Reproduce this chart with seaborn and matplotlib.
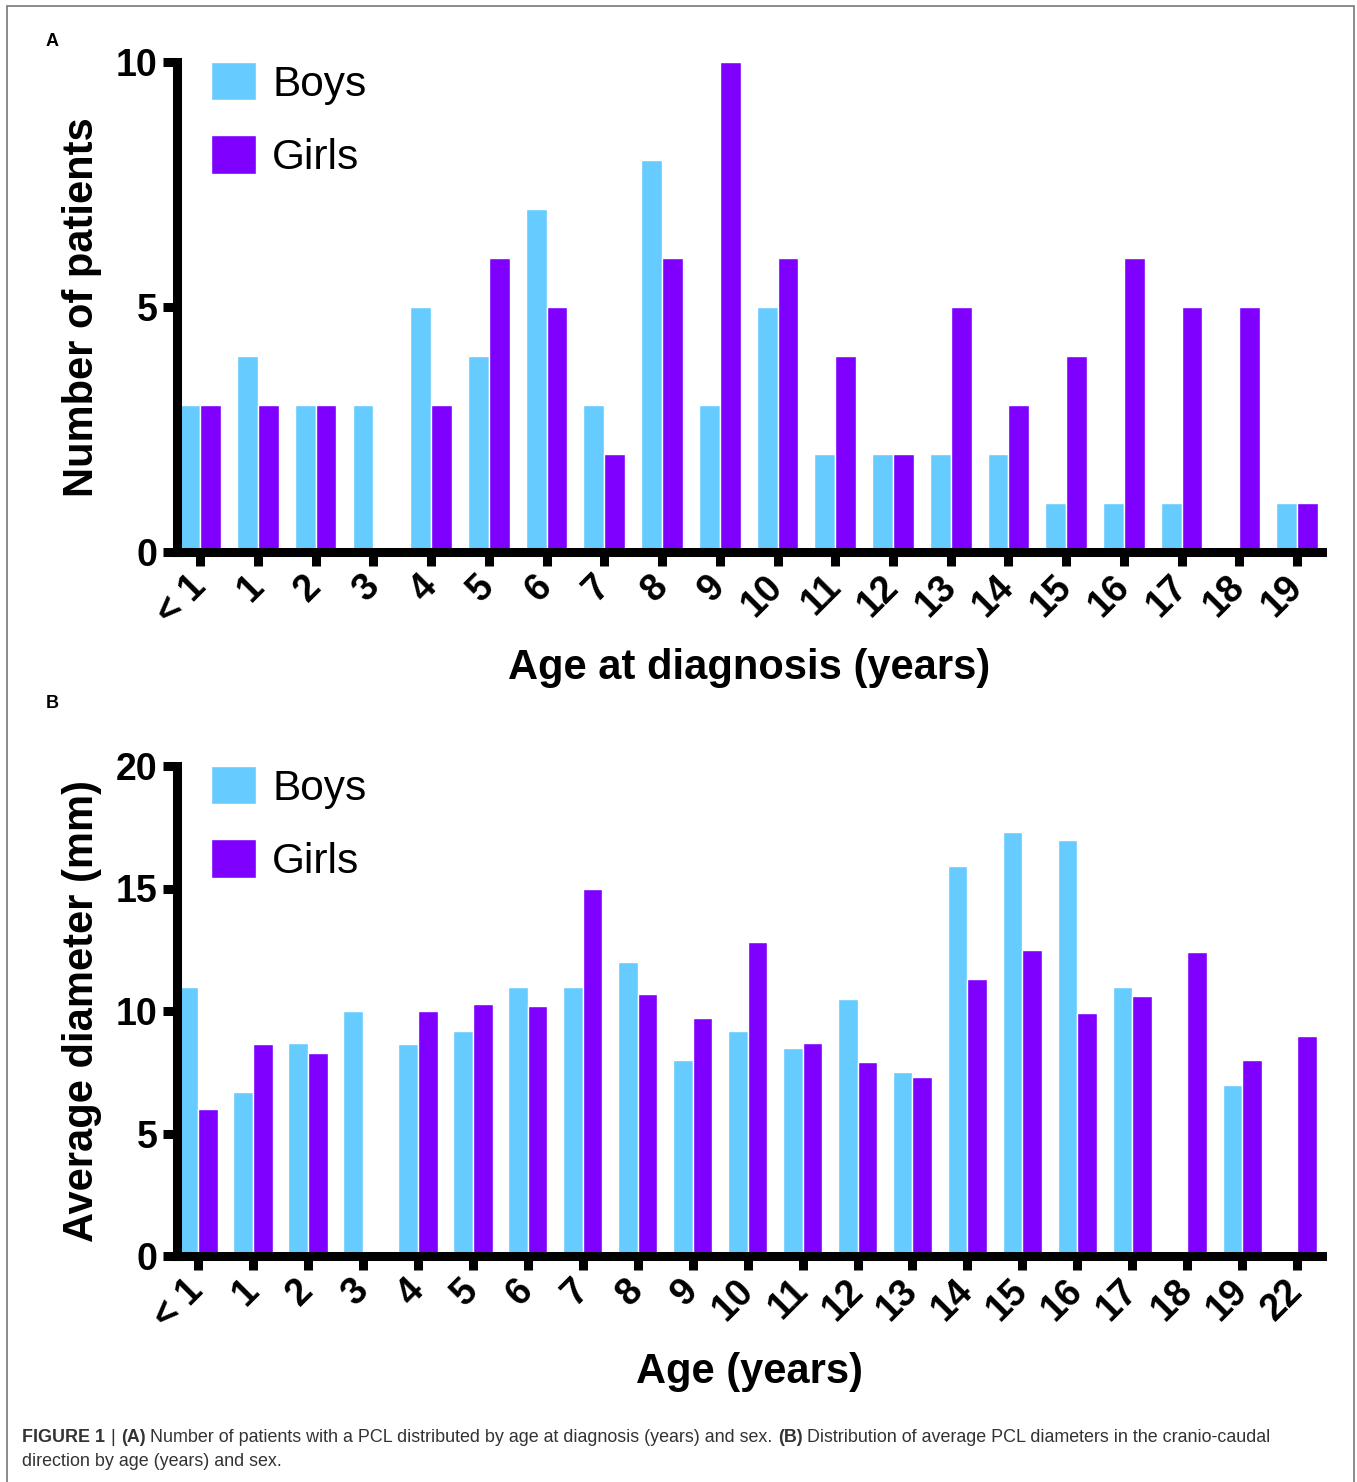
import numpy as np
import pandas as pd
import seaborn as sns
import matplotlib.pyplot as plt
from matplotlib.patches import Rectangle

sns.set_theme(style='ticks')
plt.rcParams['font.family'] = ['Liberation Sans', 'DejaVu Sans']
plt.rcParams['text.color'] = 'black'
plt.rcParams['axes.labelcolor'] = 'black'
plt.rcParams['xtick.color'] = 'black'
plt.rcParams['ytick.color'] = 'black'

boys_color = '#66CCFF'
girls_color = '#8000FF'

# panel A: number of patients by age at diagnosis
ages_a = ['< 1', '1', '2', '3', '4', '5', '6', '7', '8', '9', '10',
          '11', '12', '13', '14', '15', '16', '17', '18', '19']
boys_a = [3, 4, 3, 3, 5, 4, 7, 3, 8, 3, 5, 2, 2, 2, 2, 1, 1, 1, 0, 1]
girls_a = [3, 3, 3, 0, 3, 6, 5, 2, 6, 10, 6, 4, 2, 5, 3, 4, 6, 5, 5, 1]

# panel B: average diameter (mm) by age
ages_b = ['< 1', '1', '2', '3', '4', '5', '6', '7', '8', '9', '10',
          '11', '12', '13', '14', '15', '16', '17', '18', '19', '22']
boys_b = [11, 6.7, 8.7, 10, 8.65, 9.2, 11, 11, 12, 8, 9.2,
          8.5, 10.5, 7.5, 15.9, 17.3, 17, 11, 0, 7, 0]
girls_b = [6, 8.65, 8.3, 0, 10, 10.3, 10.2, 15, 10.7, 9.7, 12.8,
           8.7, 7.9, 7.3, 11.3, 12.5, 9.9, 10.6, 12.4, 8, 9]

W, H = 1357, 1482
fig = plt.figure(figsize=(W / 100, H / 100), dpi=100)
fig.patch.set_facecolor('white')


def draw_panel(ax, ages, boys, girls, ymax, ystep, xlim, xlabel, ylabel):
    n = len(ages)
    df = pd.DataFrame({'age': ages * 2,
                       'value': boys + girls,
                       'sex': ['Boys'] * n + ['Girls'] * n})
    sns.barplot(data=df, x='age', y='value', hue='sex', order=ages,
                hue_order=['Boys', 'Girls'],
                palette={'Boys': boys_color, 'Girls': girls_color},
                saturation=1, width=0.72, edgecolor='white', linewidth=1,
                errorbar=None, ax=ax)
    ax.set_facecolor('white')
    ax.set_xlim(*xlim)
    ax.set_ylim(0, ymax)
    ax.set_yticks(np.arange(0, ymax + 0.1, ystep))
    sns.despine(ax=ax)
    for s in ['left', 'bottom']:
        ax.spines[s].set_linewidth(6.5)
        ax.spines[s].set_color('black')
    ax.tick_params(axis='both', direction='out', length=10, width=6.5,
                   color='black')
    ax.tick_params(axis='y', pad=4)
    ax.tick_params(axis='x', pad=11)
    ax.set_yticklabels([f'{int(v)}' for v in ax.get_yticks()],
                       fontsize=27, fontweight='bold')
    ax.set_xticks(range(n))
    ax.set_xticklabels(ages, fontsize=27, fontweight='bold', rotation=45,
                       ha='right', va='center', rotation_mode='anchor')
    ax.set_xlabel(xlabel, fontsize=30, fontweight='bold')
    ax.set_ylabel(ylabel, fontsize=30, fontweight='bold')
    ax.xaxis.set_label_coords(0.5, -0.237)
    ax.xaxis.label.set_va('center')
    ax.yaxis.set_label_coords(-0.083, 0.5)
    ax.yaxis.label.set_va('center')
    leg = ax.legend(loc='upper left', bbox_to_anchor=(0.03, 1.0),
                    frameon=False, fontsize=30.5, borderaxespad=0,
                    borderpad=0, handlelength=1.06, handleheight=1.02,
                    handletextpad=0.38, labelspacing=0.72)
    return leg


ax_a = fig.add_axes([177 / W, 1 - 552 / H, (1322 - 177) / W, 490 / H])
draw_panel(ax_a, ages_a, boys_a, girls_a, 10, 5, (-0.40, 19.43),
           'Age at diagnosis (years)', 'Number of patients')

ax_b = fig.add_axes([177 / W, 1 - 1256 / H, (1322 - 177) / W, 490 / H])
draw_panel(ax_b, ages_b, boys_b, girls_b, 20, 5, (-0.38, 20.45),
           'Age (years)', 'Average diameter (mm)')

fig.text(52 / W, 1 - 42 / H, 'A', fontsize=13, fontweight='bold',
         ha='center', va='center')
fig.text(52 / W, 1 - 703 / H, 'B', fontsize=13, fontweight='bold',
         ha='center', va='center')

# caption, built piece by piece so bold parts sit inline
cap_color = '#333333'
cap_size = 12.9
pieces = [('FIGURE 1', 'bold', 0), ('|', 'normal', 4), ('(A)', 'bold', 4),
          ('Number of patients with a PCL distributed by age at diagnosis '
           '(years) and sex.', 'normal', 3.6),
          ('(B)', 'bold', 3.6),
          ('Distribution of average PCL diameters in the cranio-caudal',
           'normal', 3.6)]
prev = None
for txt, wt, gap in pieces:
    if prev is None:
        prev = fig.text(22 / W, 1 - 1437 / H, txt, fontsize=cap_size,
                        fontweight=wt, color=cap_color, va='center')
    else:
        prev = ax_b.annotate(txt, xy=(1, 0), xycoords=prev,
                             xytext=(gap, 0), textcoords='offset points',
                             fontsize=cap_size, fontweight=wt,
                             color=cap_color, va='bottom', ha='left')
fig.text(22 / W, 1 - 1462 / H, 'direction by age (years) and sex.',
         fontsize=cap_size, color=cap_color, va='center')

# thin frame around the figure
fig.add_artist(Rectangle((7 / W, -0.01), (1354 - 7) / W, 1 - 6 / H + 0.01,
                         transform=fig.transFigure, fill=False,
                         edgecolor='#777777', linewidth=1.2))

fig.savefig('out.png', dpi=100, facecolor='white')
